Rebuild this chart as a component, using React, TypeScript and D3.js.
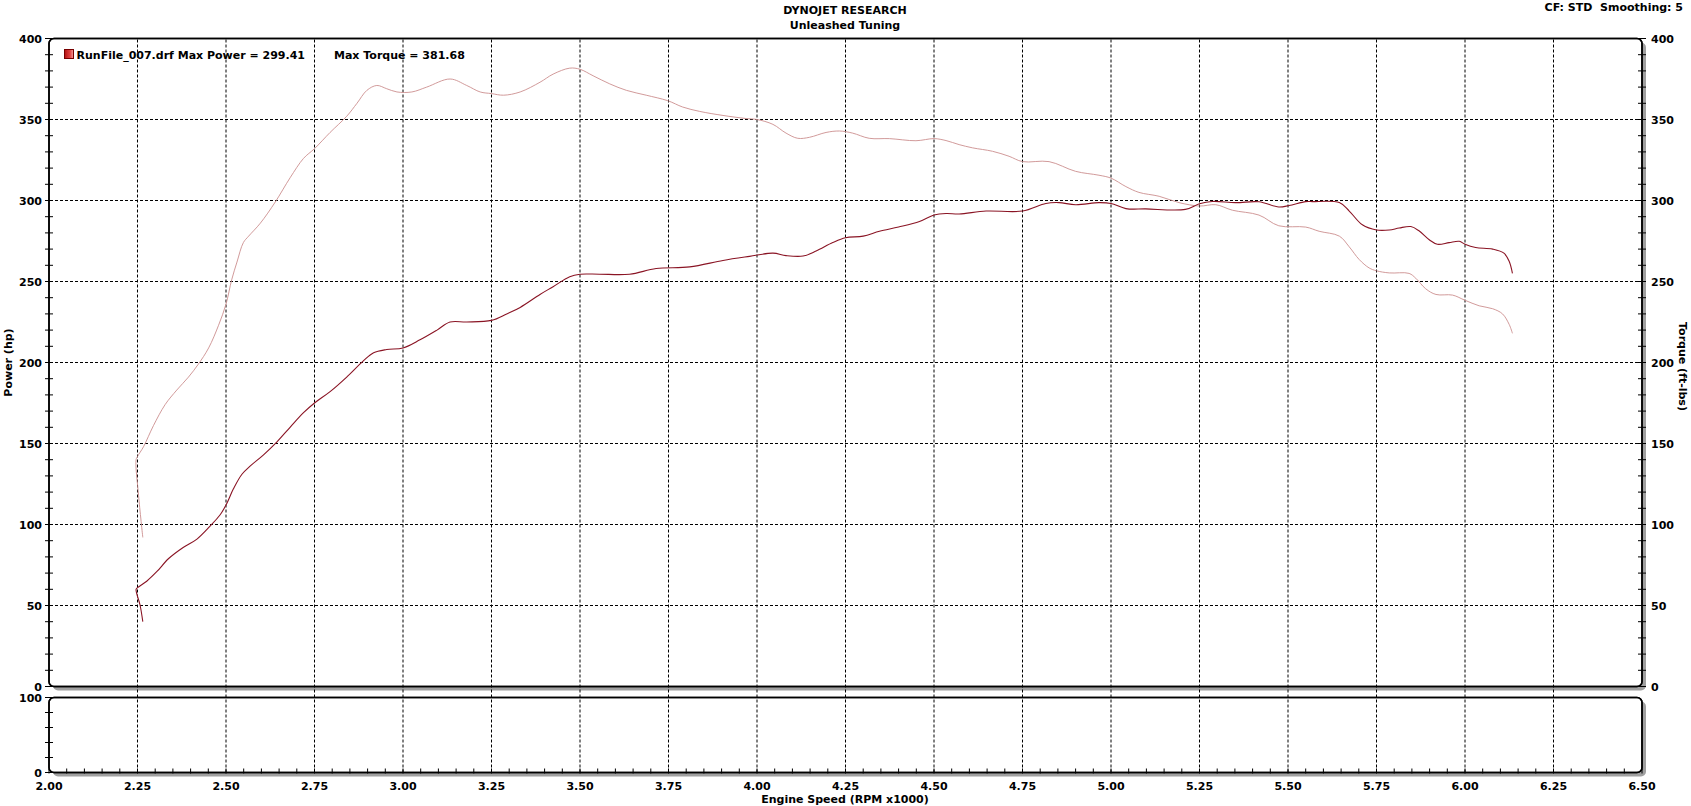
import React from 'react';
import * as d3 from 'd3';

const xTickValues = [2.0, 2.25, 2.5, 2.75, 3.0, 3.25, 3.5, 3.75, 4.0, 4.25, 4.5, 4.75, 5.0, 5.25, 5.5, 5.75, 6.0, 6.25, 6.5];
const yTickValues = [0, 50, 100, 150, 200, 250, 300, 350, 400];
const bottomTickValues = [0, 100];

const powerRpm = [
  2.265, 2.2575, 2.246, 2.25, 2.276, 2.305, 2.338, 2.38, 2.418, 2.455, 2.4835, 2.5, 2.521, 2.545, 2.568,
  2.606, 2.644, 2.681, 2.719, 2.75, 2.794, 2.841, 2.888, 2.917, 2.954, 3.0, 3.048, 3.096, 3.133, 3.18,
  3.25, 3.293, 3.331, 3.387, 3.424, 3.471, 3.5, 3.555, 3.64, 3.715, 3.81, 3.904, 3.979, 4.045, 4.082,
  4.13, 4.167, 4.214, 4.25, 4.3, 4.346, 4.4, 4.459, 4.5, 4.534, 4.571, 4.647, 4.75, 4.816, 4.853, 4.9,
  4.966, 5.0, 5.042, 5.098, 5.21, 5.25, 5.286, 5.352, 5.418, 5.474, 5.503, 5.55, 5.569, 5.645, 5.673,
  5.71, 5.75, 5.786, 5.814, 5.847, 5.87, 5.899, 5.922, 5.955, 5.984, 6.0, 6.03, 6.078, 6.11, 6.125, 6.134,
];
const powerHp = [
  40, 50, 60, 61, 65, 71, 79, 86, 91, 99, 106, 112, 122, 131, 136,
  143, 151, 160, 169, 175, 182, 191, 201, 206, 208, 209, 214, 220, 225, 225,
  226, 230, 234, 242, 246.8, 253, 254.5, 254.5, 254.5, 258, 259, 263, 265.5, 267.5, 266,
  265.7, 268.8, 274, 277, 278, 281, 283.6, 287, 291, 292, 291.7, 293.5, 293.5, 298.2, 298.7, 297.4,
  298.7, 298.2, 295, 294.8, 294.5, 298, 299.4, 298.7, 299.2, 296, 296.9, 299.3, 299.3, 298.7, 293.5,
  285, 281.8, 281.8, 283, 283.9, 281.3, 275.8, 273, 274, 274.8, 273, 271, 270, 267.5, 262.3, 255,
];

const torqueRpm = [
  2.265, 2.253, 2.246, 2.25, 2.267, 2.295, 2.328, 2.361, 2.394, 2.422, 2.451, 2.479, 2.5, 2.516, 2.531,
  2.549, 2.564, 2.597, 2.639, 2.681, 2.719, 2.75, 2.794, 2.841, 2.87, 2.898, 2.926, 2.954, 2.983, 3.025,
  3.067, 3.133, 3.18, 3.218, 3.25, 3.284, 3.331, 3.387, 3.424, 3.471, 3.5, 3.537, 3.584, 3.631, 3.687,
  3.748, 3.79, 3.838, 3.904, 3.969, 4.0, 4.045, 4.082, 4.115, 4.148, 4.195, 4.233, 4.27, 4.317, 4.374,
  4.449, 4.5, 4.534, 4.571, 4.609, 4.665, 4.712, 4.75, 4.825, 4.9, 4.966, 5.0, 5.042, 5.079, 5.136,
  5.192, 5.25, 5.296, 5.343, 5.418, 5.474, 5.55, 5.588, 5.645, 5.673, 5.701, 5.729, 5.75, 5.786, 5.842,
  5.861, 5.889, 5.918, 5.965, 6.0, 6.04, 6.078, 6.106, 6.125, 6.134,
];
const torqueFtLbs = [
  92, 118, 140, 142, 148, 161, 174, 183, 191, 199, 209, 223, 236, 251, 262,
  274, 278, 286, 299, 314, 326, 332, 342, 352, 360, 368, 371, 369, 367, 367,
  370, 375, 371, 367, 366, 365, 367, 373, 378, 381.7, 381, 377, 372, 368, 365,
  361.6, 357.7, 355, 352.5, 350.6, 350, 347, 341.6, 338.4, 339, 342, 342.9, 341.6, 338.4, 338.2,
  336.9, 338.2, 337, 334.5, 332.5, 330.4, 327.3, 324, 324, 318, 315.6, 313.8, 308.6, 305, 302.6,
  298.7, 296.6, 297.4, 294, 291, 284.4, 283.6, 281, 278, 271.4, 263.6, 258.4, 256.6, 255.3, 255,
  252, 245.5, 242, 241.6, 238.4, 235, 233.2, 230, 223.4, 218,
];

const FONT = "'DejaVu Sans', Verdana, sans-serif";

export default function App() {
  const W = 1691;
  const H = 806;
  const left = 49;
  const right = 1642;
  const mainTop = 38.5;
  const mainBottom = 686.5;
  const botTop = 697.5;
  const botBottom = 772.5;

  const x = d3.scaleLinear().domain([2, 6.5]).range([left, right]);
  const y = d3.scaleLinear().domain([0, 400]).range([mainBottom, mainTop]);
  const yb = d3.scaleLinear().domain([0, 100]).range([botBottom, botTop]);

  const line = d3
    .line<[number, number]>()
    .x((d) => x(d[0]))
    .y((d) => y(d[1]))
    .curve(d3.curveCatmullRom.alpha(0.5));

  const powerPts: [number, number][] = powerRpm.map((r, i) => [r, powerHp[i]]);
  const torquePts: [number, number][] = torqueRpm.map((r, i) => [r, torqueFtLbs[i]]);

  const minorY = d3.range(0, 401, 10);
  const minorYb = d3.range(0, 101, 20);
  const minorX = d3.range(0, 91).map((i) => 2 + i * 0.05);

  const textStyle = { fontFamily: FONT, fontWeight: 'bold' as const, fontSize: 11, fill: '#000' };

  return (
    <svg
      width={W}
      height={H}
      style={{ position: 'absolute', left: 0, top: 0, background: '#fff' }}
    >
      <rect x={0} y={0} width={W} height={H} fill="#fff" />
      {/* titles */}
      <text x={845} y={14} textAnchor="middle" {...textStyle}>DYNOJET RESEARCH</text>
      <text x={845} y={28.5} textAnchor="middle" {...textStyle}>Unleashed Tuning</text>
      <text x={1683} y={11} textAnchor="end" {...textStyle} xmlSpace="preserve">CF: STD  Smoothing: 5</text>

      {/* panel shadows */}
      <rect x={left + 4} y={mainTop + 4} width={right - left} height={mainBottom - mainTop} rx={5} fill="#a0a0a0" />
      <rect x={left + 4} y={botTop + 4} width={right - left} height={botBottom - botTop} rx={5} fill="#a0a0a0" />
      {/* panels */}
      <rect x={left} y={mainTop} width={right - left} height={mainBottom - mainTop} rx={5} fill="#fff" stroke="#000" strokeWidth={1.5} />
      <rect x={left} y={botTop} width={right - left} height={botBottom - botTop} rx={5} fill="#fff" stroke="#000" strokeWidth={1.5} />

      {/* horizontal grid */}
      {yTickValues.filter((v) => v > 0 && v < 400).map((v) => (
        <line key={'hg' + v} x1={left - 4} x2={right + 4} y1={y(v)} y2={y(v)} stroke="#000" strokeWidth={1} strokeDasharray="3,2" />
      ))}
      {/* vertical grid */}
      {xTickValues.filter((v) => v > 2 && v < 6.5).map((v) => (
        <line key={'vg' + v} x1={x(v)} x2={x(v)} y1={mainTop + 1} y2={botBottom} stroke="#000" strokeWidth={1} strokeDasharray="3,2" />
      ))}

      {/* left & right axis minor ticks (main) */}
      {minorY.map((v) => (
        <g key={'my' + v}>
          <line x1={left - 4} x2={left + 4} y1={y(v)} y2={y(v)} stroke="#000" strokeWidth={1} />
          <line x1={right - 4} x2={right + 4} y1={y(v)} y2={y(v)} stroke="#000" strokeWidth={1} />
        </g>
      ))}
      {minorYb.map((v) => (
        <line key={'myb' + v} x1={left - 4} x2={left + 4} y1={yb(v)} y2={yb(v)} stroke="#000" strokeWidth={1} />
      ))}
      {minorX.map((v, i) => (
        <line key={'mx' + i} x1={x(v)} x2={x(v)} y1={botBottom - 4} y2={botBottom + 1} stroke="#000" strokeWidth={1} />
      ))}

      {/* redraw panel borders over ticks */}
      <rect x={left} y={mainTop} width={right - left} height={mainBottom - mainTop} rx={5} fill="none" stroke="#000" strokeWidth={1.5} />
      <rect x={left} y={botTop} width={right - left} height={botBottom - botTop} rx={5} fill="none" stroke="#000" strokeWidth={1.5} />

      {/* left axis labels */}
      {yTickValues.map((v) => (
        <text key={'ly' + v} x={42} y={y(v) + 4} textAnchor="end" {...textStyle}>{v}</text>
      ))}
      {yTickValues.map((v) => (
        <text key={'ry' + v} x={1651} y={y(v) + 4} textAnchor="start" {...textStyle}>{v}</text>
      ))}
      {bottomTickValues.map((v) => (
        <text key={'lb' + v} x={42} y={yb(v) + 4} textAnchor="end" {...textStyle}>{v}</text>
      ))}
      {/* x labels */}
      {xTickValues.map((v) => (
        <text key={'xl' + v} x={x(v)} y={789.5} textAnchor="middle" {...textStyle}>{v.toFixed(2)}</text>
      ))}
      <text x={845} y={803} textAnchor="middle" {...textStyle}>Engine Speed (RPM x1000)</text>
      <text transform={`translate(12,${(mainTop + mainBottom) / 2}) rotate(-90)`} textAnchor="middle" {...textStyle}>Power (hp)</text>
      <text transform={`translate(1679,${(mainTop + mainBottom) / 2 + 4}) rotate(90)`} textAnchor="middle" {...textStyle}>Torque (ft-lbs)</text>

      {/* legend */}
      <defs>
        <linearGradient id="lg" x1="0" x2="1" y1="0" y2="0">
          <stop offset="0" stopColor="#b01010" />
          <stop offset="0.6" stopColor="#e04040" />
          <stop offset="1" stopColor="#f4a0a0" />
        </linearGradient>
      </defs>
      <rect x={64.5} y={49.5} width={9} height={9} fill="url(#lg)" stroke="#700" strokeWidth={1} />
      <text x={76.5} y={58.5} {...textStyle}>RunFile_007.drf Max Power = 299.41</text>
      <text x={334} y={58.5} {...textStyle}>Max Torque = 381.68</text>

      {/* curves */}
      <path d={line(torquePts) || ''} fill="none" stroke="#cc8e8e" strokeWidth={0.9} />
      <path d={line(powerPts) || ''} fill="none" stroke="#8a1424" strokeWidth={1.1} />
    </svg>
  );
}
